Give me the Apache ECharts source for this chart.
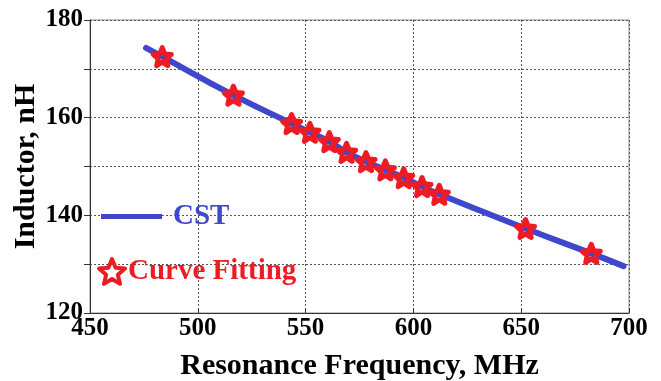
<!DOCTYPE html>
<html>
<head>
<meta charset="utf-8">
<script src="https://cdn.jsdelivr.net/npm/echarts@6/dist/echarts.min.js"></script>
<style>
  html, body { margin: 0; padding: 0; background: #fff; }
  #chart { width: 661px; height: 381px; }
</style>
</head>
<body>
<div id="chart"></div>
<script>
// CST simulation curve (MHz, nH)
const cstFreq = [476, 483.5, 516.5, 543.5, 552, 561, 569, 578, 587, 595.5, 604, 612, 652, 682.5, 697.5]
const cstInd = [174.3, 172.5, 164.6, 158.8, 157.0, 155.1, 152.9, 151.0, 149.3, 147.7, 145.9, 144.3, 137.3, 132.2, 129.6]

// curve fitting points
const fitFreq = [483.5, 516.5, 543.5, 552, 561, 569, 578, 587, 595.5, 604, 612, 652, 682.5]
const fitInd = [172.5, 164.6, 158.8, 157.0, 155.1, 152.9, 151.0, 149.3, 147.7, 145.9, 144.3, 137.3, 132.2]

const xTicks = [450, 500, 550, 600, 650, 700]
const yLabels = [120, 140, 160, 180]

const BLUE = '#3f48cc'
const RED = '#ed1c24'
const FONT = '"Liberation Serif", "Times New Roman", serif'
const STAR = 'path://M0,-10 L2.65,-3.64 L9.51,-3.09 L4.28,1.39 L5.88,8.09 L0,4.5 L-5.88,8.09 L-4.28,1.39 L-9.51,-3.09 L-2.65,-3.64 Z'

const chart = echarts.init(document.getElementById('chart'), null, { renderer: 'canvas' })

chart.setOption({
  animation: false,
  grid: {
    left: 90, right: 32, top: 20, bottom: 68,
    outerBoundsMode: 'none',
    containLabel: false,
    show: true,
    borderColor: '#8a8a8a',
    borderWidth: 1
  },
  legend: [
    {
      data: ['CST'],
      left: 96, top: 197,
      icon: 'rect',
      itemWidth: 61, itemHeight: 5,
      itemGap: 0,
      textStyle: { color: BLUE, fontFamily: FONT, fontWeight: 'bold', fontSize: 29, padding: [0, 0, 0, 6] }
    },
    {
      data: ['Curve Fitting'],
      left: 92, top: 252,
      icon: STAR,
      itemWidth: 26, itemHeight: 26,
      itemStyle: { color: '#fff', borderColor: RED, borderWidth: 4, opacity: 1 },
      textStyle: { color: RED, fontFamily: FONT, fontWeight: 'bold', fontSize: 29, padding: [0, 0, 0, -2] }
    }
  ],
  xAxis: {
    type: 'value',
    min: 450, max: 700, interval: 50,
    name: 'Resonance Frequency, MHz',
    nameLocation: 'middle',
    nameGap: 38,
    nameMoveOverlap: false,
    nameTextStyle: { color: '#000', fontFamily: FONT, fontWeight: 'bold', fontSize: 30 },
    axisLine: { lineStyle: { color: '#333', width: 1 } },
    axisTick: { inside: true, length: 5, lineStyle: { color: '#333' } },
    axisLabel: {
      color: '#000', fontFamily: FONT, fontWeight: 'bold', fontSize: 25, margin: 3,
      formatter: v => xTicks.includes(v) ? String(v) : ''
    },
    splitLine: { lineStyle: { color: '#555', type: [2, 2], width: 1 } }
  },
  yAxis: {
    type: 'value',
    min: 120, max: 180, interval: 10,
    name: 'Inductor, nH',
    nameLocation: 'middle',
    nameGap: 49,
    nameMoveOverlap: false,
    nameRotate: 90,
    nameTextStyle: { color: '#000', fontFamily: FONT, fontWeight: 'bold', fontSize: 30 },
    axisLine: { show: true, lineStyle: { color: '#333', width: 1 } },
    axisTick: { show: true, length: 6, lineStyle: { color: '#333' } },
    axisLabel: {
      color: '#000', fontFamily: FONT, fontWeight: 'bold', fontSize: 25, margin: 7,
      formatter: v => yLabels.includes(v) ? String(v) : ''
    },
    splitLine: { lineStyle: { color: '#555', type: [2, 2], width: 1 } }
  },
  series: [
    {
      name: 'CST',
      type: 'line',
      data: cstFreq.map((f, i) => [f, cstInd[i]]),
      smooth: true,
      symbol: 'none',
      lineStyle: { color: BLUE, width: 6, cap: 'round' },
      itemStyle: { color: BLUE },
      z: 2
    },
    {
      name: 'Curve Fitting',
      type: 'scatter',
      data: fitFreq.map((f, i) => [f, fitInd[i]]),
      symbol: STAR,
      symbolSize: 18,
      itemStyle: { color: 'rgba(0,0,0,0)', borderColor: RED, borderWidth: 5, borderJoin: 'round', opacity: 1 },
      z: 3
    }
  ]
})
</script>
</body>
</html>
